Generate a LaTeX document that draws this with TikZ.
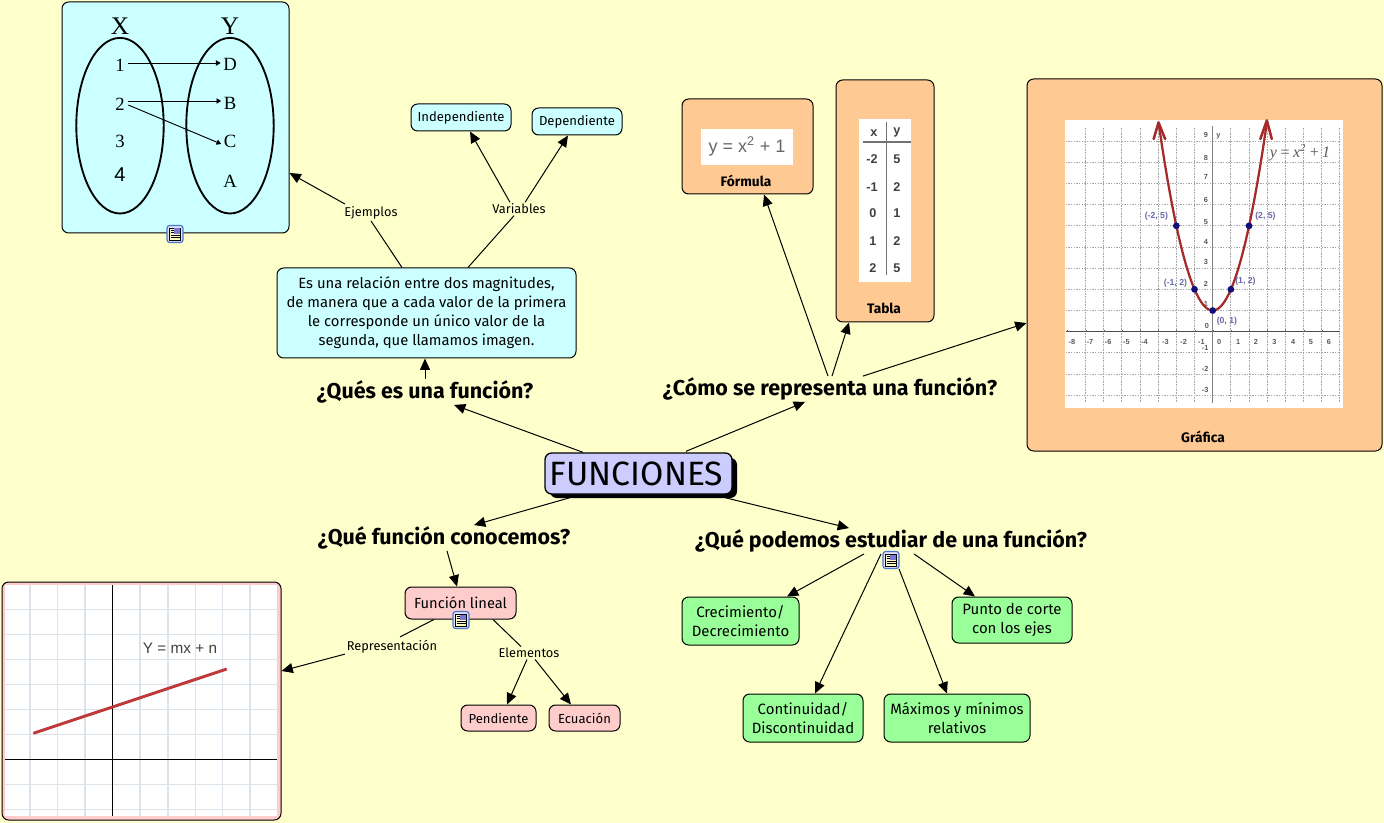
\documentclass[tikz,border=0pt]{standalone}
\usepackage{fontspec}
\setmainfont{Fira Sans}
\newfontfamily\lib{Liberation Sans}
\newfontfamily\serifx{Liberation Serif}
\usetikzlibrary{arrows.meta}
\definecolor{bgy}{HTML}{FFFFCC}
\definecolor{cyanb}{HTML}{CCFFFF}
\definecolor{orangeb}{HTML}{FFC993}
\definecolor{pinkb}{HTML}{FFCCCC}
\definecolor{greenb}{HTML}{99FF99}
\definecolor{lavb}{HTML}{CCCCFF}
\definecolor{gridg}{HTML}{A8A8A8}
\definecolor{gridl}{HTML}{DCE3EA}
\definecolor{curvr}{HTML}{A52A2A}
\definecolor{dotb}{HTML}{10107A}
\definecolor{lblb}{HTML}{6A6AA8}
\definecolor{iconb}{HTML}{4A78C8}
\definecolor{liner}{HTML}{BE3A3A}
\tikzset{
  wh/.style 2 args={minimum width=#1*0.75pt,minimum height=#2*0.75pt},
  box/.style={draw=black,line width=.75pt,rounded corners=5pt,inner sep=0pt,align=center},
  arr/.style={line width=.75pt,-{Triangle[length=8.5pt,width=7.5pt]}},
  seg/.style={line width=.75pt},
  quest/.style={font=\fontsize{16.1}{18}\selectfont\bfseries,inner sep=1pt},
  lab/.style={font=\fontsize{9.6}{11}\selectfont,inner sep=1pt},
  txt9/.style={font=\fontsize{11.1}{14.3}\selectfont},
  txtg/.style={font=\fontsize{11.2}{14.3}\selectfont},
  small/.style={font=\fontsize{9.8}{11}\selectfont},
  sm/.style={font=\fontsize{10.3}{12}\selectfont\bfseries,inner sep=0pt},
  ser/.style={font=\fontsize{14}{16}\serifx,inner sep=1pt},
  tick/.style={font=\fontsize{5.5}{6}\lib\bfseries,text=black!65,inner sep=0pt},
  ptl/.style={font=\fontsize{6.5}{7}\lib\bfseries,text=lblb,inner sep=0pt},
  cell/.style={font=\fontsize{9.5}{11}\lib\bfseries,text=black!75,inner sep=0pt},
  noteicon/.pic={
    \draw[draw=iconb,fill=blue!12,line width=.9pt,rounded corners=2pt] (-8,-8.5) rectangle (8,8.5);
    \fill[yellow!25] (-5.5,-6) rectangle (5.5,6);
    \draw[line width=.5pt] (-5.5,-6) rectangle (5.5,6);
    \fill[blue!50!gray!70] (-1,-5.5) rectangle (5,0);
    \draw[line width=.6pt] (-4.5,-4) -- (-1.5,-4) (-4.5,-1.5) -- (-1.5,-1.5) (-4.5,1.5) -- (4.5,1.5) (-4.5,3.7) -- (4.5,3.7);
  }
}
\begin{document}
\begin{tikzpicture}[x=.75pt,y=-.75pt]
\fill[bgy] (0,0) rectangle (1384,823);
\useasboundingbox (0,0) rectangle (1384,823);

% main
\fill[black,rounded corners=5pt] (550,458) rectangle (737,498);
\node[box,fill=lavb,wh={187}{41},line width=1pt,font=\fontsize{25.3}{26}\selectfont] (fn) at (638.5,473.5) {\hspace{-3pt}FUNCIONES};

\node[quest] (q1) at (425,392) {¿Qués es una función?};
\node[quest] (q2) at (830,389) {¿Cómo se representa una función?};
\node[quest] (q3) at (444,538) {¿Qué función conocemos?};
\node[quest] (q4) at (891,541) {¿Qué podemos estudiar de una función?};

% definition
\node[box,fill=cyanb,wh={299}{90},txt9] (es) at (426.5,313) {Es una relación entre dos magnitudes,\\de manera que a cada valor de la primera\\le corresponde un único valor de la\\segunda, que llamamos imagen.};
\node[lab] (ej) at (371,213) {Ejemplos};
\node[lab] (va) at (519,209) {Variables};
\node[box,fill=cyanb,wh={100}{27},small] (ind) at (461,117.5) {Independiente};
\node[box,fill=cyanb,wh={90}{27},small] (dep) at (577,121.5) {Dependiente};

% sets box
\node[box,fill=cyanb,wh={227}{231}] (sets) at (175.5,117.5) {};
\draw[line width=1.4pt] (120,125.7) ellipse (43.7 and 87.8);
\draw[line width=1.4pt] (230,125.7) ellipse (43.7 and 87.8);
\node[ser,font=\fontsize{19}{20}\serifx] (sx) at (120,26) {X};
\node[ser,font=\fontsize{19}{20}\serifx] (sy) at (230,26) {Y};
\node[ser] (n1) at (120,65) {1};
\node[ser] (n2) at (120,104) {2};
\node[ser] (n3) at (120,141) {3};
\node[ser,font=\fontsize{15}{16}\lib] (n4) at (120,175) {4};
\node[ser] (nD) at (230,64) {D};
\node[ser] (nB) at (230,103) {B};
\node[ser] (nC) at (230,141) {C};
\node[ser] (nA) at (230,181) {A};
\tikzset{sarr/.style={line width=.7pt,-{Triangle[length=3.5pt,width=4pt]}}}
\draw[sarr] ([shift={(2,-2)}]n1.east) -- ([shift={(-1,-1)}]nD.west);
\draw[sarr] ([shift={(2,-3)}]n2.east) -- ([shift={(-1,-2)}]nB.west);
\draw[sarr] ([shift={(2,1)}]n2.east) -- ([shift={(-1,3)}]nC.west);
\pic at (175,234) {noteicon};

% orange boxes
\node[box,fill=orangeb,wh={131}{95}] (fo) at (747.5,146.5) {};
\node[box,fill=orangeb,wh={98}{242}] (ta) at (885,201) {};
\node[box,fill=orangeb,wh={355}{372}] (gr) at (1204.5,265) {};
\node[sm] (fol) at (746,181) {Fórmula};
\node[sm] (tal) at (884,308) {Tabla};
\node[sm] (grl) at (1203,437) {Gráfica};
% formula image
\fill[white] (701,129) rectangle (793,165);
\node[inner sep=0pt,font=\fontsize{13.5}{15}\lib,text=black!60] (fof) at (747,146) {y = x\textsuperscript{2} + 1};
% table image
\fill[white] (859,119) rectangle (911,282);
\draw[black!55,line width=1pt] (862.7,142) -- (910.7,142);
\draw[black!55,line width=1pt] (886.7,122) -- (886.7,275);
\node[cell] (tx) at (874,132.7) {x};
\node[cell] (ty) at (897,132.7) {y};
\node[cell] (ta1) at (872,159.3) {-2};
\node[cell] (tb1) at (897,159.3) {5};
\node[cell] (ta2) at (872,186.7) {-1};
\node[cell] (tb2) at (897,186.7) {2};
\node[cell] (ta3) at (873,213.3) {0};
\node[cell] (tb3) at (897,213.3) {1};
\node[cell] (ta4) at (873,241) {1};
\node[cell] (tb4) at (897,241) {2};
\node[cell] (ta5) at (873,268.3) {2};
\node[cell] (tb5) at (897,268.3) {5};

% parabola image
\fill[white] (1065,120) rectangle (1343,408);
\begin{scope}[shift={(1212.7,331.7)},x=13.63pt,y=15.88pt]
  \draw[gridg,line width=.7pt,dash pattern=on 1.2pt off .8pt]
    \foreach \i in {-7,...,7} {(\i,-3.3) -- (\i,9.6)}
    \foreach \j in {-3,...,9} {(-8.1,\j) -- (7,\j)};
  \draw[black!70,line width=1.1pt] (-8.1,0) -- (7,0);
  \draw[black!50,line width=1.1pt] (0,-3.35) -- (0,9.7);
  \foreach \i in {-8,...,6} {\draw[black!65,line width=.5pt] (\i+.02,0) -- (\i+.02,.1);}
  \foreach \i/\l in {-7.75/-8,-6.75/-7,-5.75/-6,-4.75/-5,-3.75/-4,-2.6/-3,-1.6/-2,-.62/-1,.36/0,1.4/1,2.38/2,3.4/3,4.43/4,5.4/5,6.4/6}
    \node[tick] (xt\l) at (\i,-.48) {\l};
  \foreach \j/\l/\dx in {9.3/9/-.38,8.2/8/-.38,7.31/7/-.38,6.2/6/-.38,5.2/5/-.38,4.25/4/-.38,3.3/3/-.38,2.27/2/-.38,1.33/1/-.38,.25/0/-.32,-.76/-1/-.42,-1.74/-2/-.42,-2.73/-3/-.42}
    \node[tick] (yt\l) at (\dx,\j) {\l};
  \node[tick] (yl) at (.32,9.25) {y};
  \draw[curvr,line width=1.7pt,smooth] plot[domain=-2.98:2.98,samples=60] (\x,{\x*\x+1});
  \draw[curvr,line width=1.9pt,line cap=round,line join=round] (-3.25,9.1) -- (-2.98,9.88) -- (-2.62,9.1);
  \draw[curvr,line width=1.9pt,line cap=round,line join=round] (2.62,9.1) -- (2.98,9.98) -- (3.25,9.1);
  \foreach \a/\b/\n in {-2/5/a,-1/2/b,0/1/c,1/2/d,2/5/e}
    \fill[dotb] (\a,\b) circle[x=.75pt,y=.75pt,radius=3.4];
  \node[ptl] (pa) at (-3.1,5.47) {(-2, 5)};
  \node[ptl] (pb) at (-2.05,2.3) {(-1, 2)};
  \node[ptl] (pc) at (.78,.5) {(0, 1)};
  \node[ptl] (pd) at (1.8,2.37) {(1, 2)};
  \node[ptl] (pe) at (2.9,5.47) {(2, 5)};
\end{scope}
\node[inner sep=0pt,font=\fontsize{12}{14}\serifx\itshape,text=black!65] (eqy) at (1300,153) {y\,=\,x\textsuperscript{2}\,+\,1};

% lineal
\node[box,fill=pinkb,wh={111}{32},font=\fontsize{11}{12}\selectfont] (fl) at (460.5,603) {Función lineal};
\pic at (461,620) {noteicon};
\node[lab] (re) at (392,647) {Representación};
\node[lab] (el) at (529,653) {Elementos};
\node[box,fill=pinkb,wh={75}{26},small] (pe) at (498.5,718) {Pendiente};
\node[box,fill=pinkb,wh={71}{26},small] (ec) at (584.5,718) {Ecuación};
\node[box,fill=pinkb,wh={279}{238}] (li) at (141.5,701) {};
\fill[white] (5,585) rectangle (277,816);
\begin{scope}
  \draw[gridl,line width=.8pt]
    \foreach \i in {30,57.3,85,140,168,195.7,222.7,250} {(\i,585) -- (\i,816)}
    \foreach \j in {609.3,634.3,659.3,684.3,709.3,734.3,784.3,809.3} {(5,\j) -- (277,\j)};
  \draw[black,line width=.9pt] (5,759.3) -- (277,759.3);
  \draw[black,line width=.9pt] (112.7,585) -- (112.7,816);
  \draw[liner,line width=2.2pt] (33.3,733.3) -- (226.7,669);
\end{scope}
\node[inner sep=0pt,font=\fontsize{11.5}{13}\lib,text=black!75] (lie) at (180,648) {Y = mx + n};

% green
\node[box,fill=greenb,wh={117}{48},txtg] (cr) at (740.5,621) {Crecimiento/\\Decrecimiento};
\node[box,fill=greenb,wh={120}{48},txtg] (co) at (803,718) {Continuidad/\\Discontinuidad};
\node[box,fill=greenb,wh={146}{48},txtg] (ma) at (957,718) {Máximos y mínimos\\relativos};
\node[box,fill=greenb,wh={120}{46},txtg] (pu) at (1012,620) {Punto de corte\\con los ejes};
\pic at (891,560) {noteicon};

% connectors
\draw[arr] ([shift={(-55.5,0)}]fn.north) -- ([shift={(29,0)}]q1.south);
\draw[arr] ([shift={(47.5,-1)}]fn.north) -- ([shift={(-25,0)}]q2.south);
\draw[arr] ([shift={(-68.5,3)}]fn.south) -- ([shift={(30,0)}]q3.north);
\draw[arr] ([shift={(86.5,3)}]fn.south) -- ([shift={(-42,0)}]q4.north);
\draw[arr] ([shift={(0,0)}]q1.north) -- (q1.north |- es.south);
\draw[seg] ([shift={(-24.5,0)}]es.north) -- (ej.south);
\draw[arr] ([shift={(-26,-1)}]ej.north) -- (sets.east |- 0,173);
\draw[seg] ([shift={(41.5,0)}]es.north) -- ([shift={(-5,0)}]va.south);
\draw[arr] ([shift={(-9,0)}]va.north) -- ([shift={(9,0)}]ind.south);
\draw[arr] ([shift={(6,0)}]va.north) -- ([shift={(-9,0)}]dep.south);
\draw[arr] ([shift={(-2,0)}]q2.north) -- ([shift={(16.5,0)}]fo.south);
\draw[arr] ([shift={(2,0)}]q2.north) -- ([shift={(-36,0)}]ta.south);
\draw[arr] ([shift={(33,0)}]q2.north) -- (gr.west |- 0,323);
\draw[arr] ([shift={(3,0)}]q3.south) -- ([shift={(-3.5,0)}]fl.north);
\draw[seg] ([shift={(-26.5,0)}]fl.south) -- ([shift={(8,-2)}]re.north);
\draw[arr] ([shift={(-47,-1)}]re.south) -- ([shift={(0,-30)}]li.east);
\draw[seg] ([shift={(32.5,0)}]fl.south) -- ([shift={(-8,0)}]el.north);
\draw[arr] ([shift={(-2,0)}]el.south) -- ([shift={(8.5,0)}]pe.north);
\draw[arr] ([shift={(6,0)}]el.south) -- ([shift={(-13.5,0)}]ec.north);
\draw[arr] ([shift={(-27,0)}]q4.south) -- ([shift={(46.5,0)}]cr.north);
\draw[arr] ([shift={(-10,0)}]q4.south) -- ([shift={(12,0)}]co.north);
\draw[arr] ([shift={(8,15)}]q4.south) -- ([shift={(-10,0)}]ma.north);
\draw[arr] ([shift={(23,0)}]q4.south) -- ([shift={(-37,0)}]pu.north);
\end{tikzpicture}
\end{document}
